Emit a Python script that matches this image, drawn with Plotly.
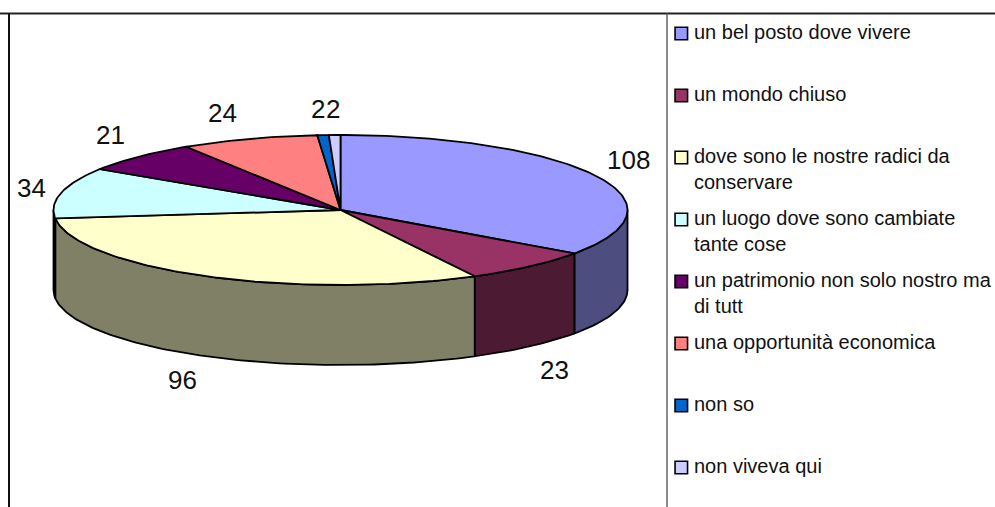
import math
import plotly.graph_objects as go

# --- data ---
categories = [
    "un bel posto dove vivere",
    "un mondo chiuso",
    "dove sono le nostre radici da conservare",
    "un luogo dove sono cambiate tante cose",
    "un patrimonio non solo nostro ma di tutt",
    "una opportunità economica",
    "non so",
    "non viveva qui",
]
values = [108, 23, 96, 34, 21, 24, 2, 2]

# --- styles ---
top_colors = ["#9999FF", "#993366", "#FFFFCC", "#CCFFFF", "#660066", "#FF8080", "#0066CC", "#CCCCFF"]
wall_colors = ["#4D4D80", "#4D1A33", "#808066", "#668080", "#330033", "#804040", "#003366", "#666680"]
legend_lines = [
    ["un bel posto dove vivere"],
    ["un mondo chiuso"],
    ["dove sono le nostre radici da", "conservare"],
    ["un luogo dove sono cambiate", "tante cose"],
    ["un patrimonio non solo nostro ma", "di tutt"],
    ["una opportunità economica"],
    ["non so"],
    ["non viveva qui"],
]
legend_y = [33.5, 95.5, 157.5, 219.5, 281.5, 343.5, 405.5, 467.5]
label_xy = [(628, 160), (554, 370), (182, 380), (31, 188), (110, 135), (222, 113), (318, 109), (333, 109)]

FONT = "Liberation Sans, Arial, sans-serif"
CX, CY, RX, RY, DEPTH = 340.5, 210, 287, 75, 80
W, H = 995, 507


def pt(t, dy=0):
    return CX + RX * math.sin(t), CY - RY * math.cos(t) + dy


def arc(a, b, dy=0, step=math.radians(1)):
    n = max(2, int(abs(b - a) / step) + 1)
    return [pt(a + (b - a) * i / (n - 1), dy) for i in range(n)]


fig = go.Figure()
total = sum(values)
angles = [0]
for v in values:
    angles.append(angles[-1] + v / total * 2 * math.pi)


def poly(points, fill, width=1.8):
    xs = [p[0] for p in points]
    ys = [p[1] for p in points]
    fig.add_trace(go.Scatter(x=xs, y=ys, mode="lines", fill="toself", fillcolor=fill,
                             line=dict(color="black", width=width), hoverinfo="skip", showlegend=False))


# side walls of the front half
for i, v in enumerate(values):
    a = max(angles[i], math.pi / 2)
    b = min(angles[i + 1], 3 * math.pi / 2)
    if b > a:
        poly(arc(a, b) + arc(b, a, DEPTH) + [pt(a)], wall_colors[i])

# top faces
for i, v in enumerate(values):
    poly([(CX, CY)] + arc(angles[i], angles[i + 1]) + [(CX, CY)], top_colors[i])

# value labels
for v, (x, y) in zip(values, label_xy):
    fig.add_annotation(x=x, y=y, text=str(v), showarrow=False, xanchor="center", yanchor="middle",
                       font=dict(family=FONT, size=26, color="#111111"))

# legend keys and text
fig.add_trace(go.Scatter(x=[681.3] * len(categories), y=legend_y, mode="markers",
                         marker=dict(symbol="square", size=12.5, color=top_colors,
                                     line=dict(color="black", width=1.6)),
                         hovertext=categories, hoverinfo="text", showlegend=False))
for lines, y in zip(legend_lines, legend_y):
    for j, line in enumerate(lines):
        fig.add_annotation(x=693, y=y - 1.5 + j * 25.7, text=line, showarrow=False, xanchor="left",
                           yanchor="middle", xshift=-1,
                           font=dict(family=FONT, size=20, color="#111111"))

shapes = [
    dict(type="line", x0=0, x1=W, y0=13.5, y1=13.5, line=dict(color="#222222", width=2)),
    dict(type="line", x0=9, x1=9, y0=13.5, y1=H, line=dict(color="#111111", width=2)),
    dict(type="line", x0=667, x1=667, y0=13.5, y1=H, line=dict(color="#666666", width=1.5)),
]

fig.update_layout(
    width=W, height=H, margin=dict(l=0, r=0, t=0, b=0),
    paper_bgcolor="white", plot_bgcolor="white", shapes=shapes, showlegend=False,
    xaxis=dict(range=[0, W], visible=False, fixedrange=True),
    yaxis=dict(range=[H, 0], visible=False, fixedrange=True),
)
fig.write_html("out.html", post_script="document.body.style.margin='0';", config={"displayModeBar": False})
